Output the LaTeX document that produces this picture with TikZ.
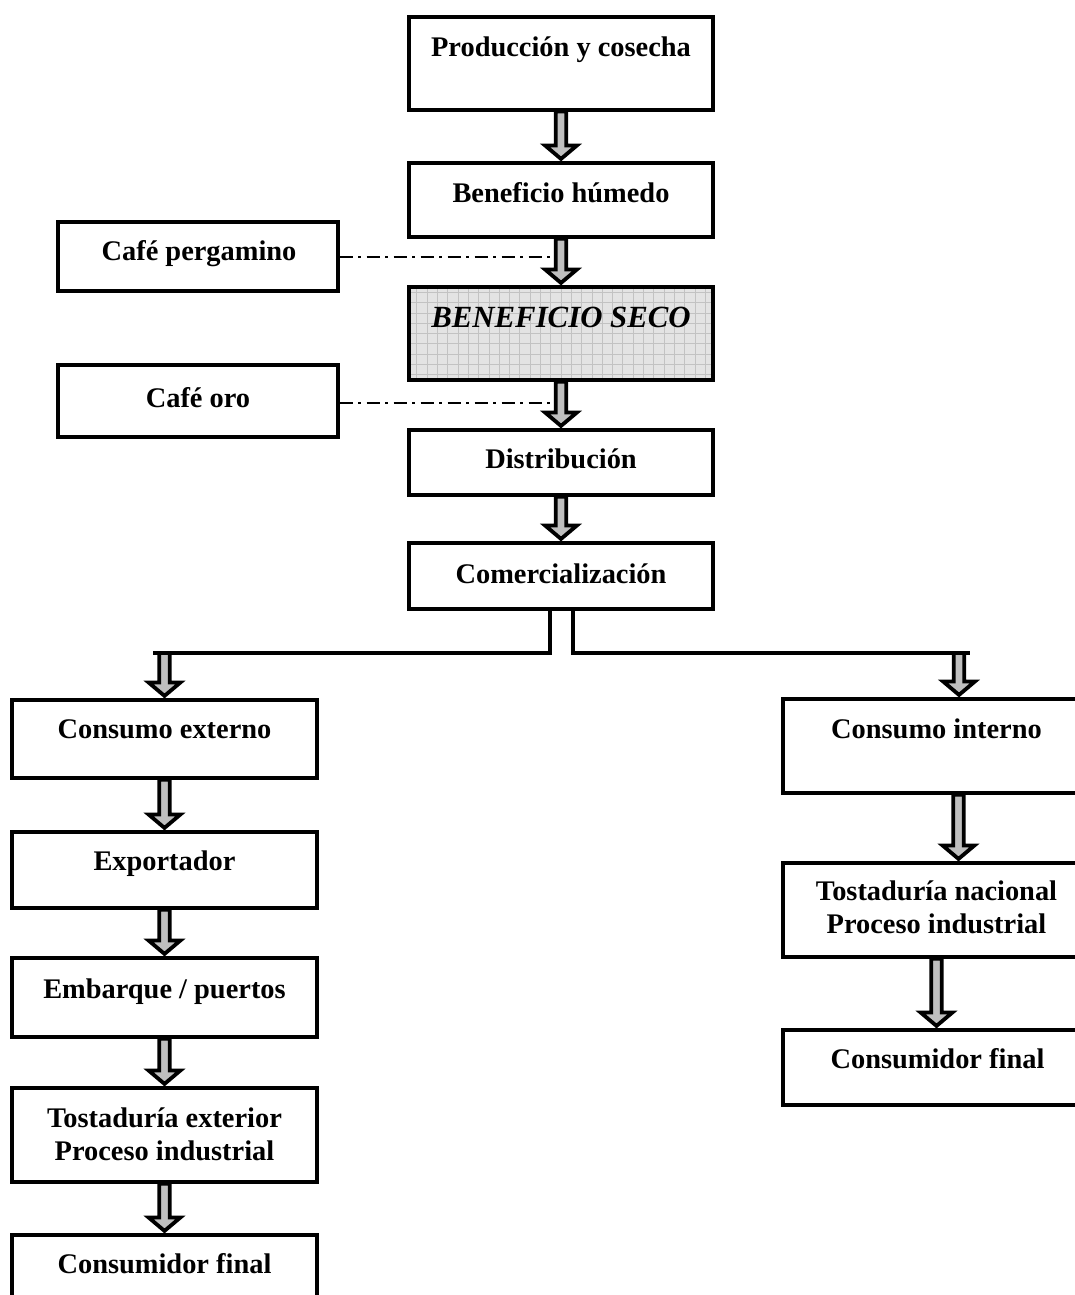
\documentclass[tikz,border=0pt]{standalone}
\usepackage{fontspec}
\setmainfont{Liberation Serif}
\usetikzlibrary{calc}
\definecolor{arrowgray}{HTML}{BFBFBF}
\begin{document}
\begin{tikzpicture}[x=1pt,y=1pt,
  box/.style={draw=black, line width=3.2pt, rectangle, inner sep=0pt, fill=white},
  lbl/.style={font=\fontsize{28.4}{32.5}\selectfont\bfseries, inner sep=0pt, anchor=base, align=center},
  seclbl/.style={font=\fontsize{30.8}{34}\selectfont\bfseries\itshape, inner sep=0pt, anchor=base},
  gridbox/.style={box, fill=black!11, path picture={\draw[black!24, line width=0.7pt, step=10.3pt]
      (path picture bounding box.south west) grid (path picture bounding box.north east);}},
  conn/.style={draw=black, line width=4pt},
  dashdot/.style={draw=black, line width=2pt, dash pattern=on 13pt off 5.5pt on 3pt off 5.5pt},
  blockarrow/.style={fill=arrowgray, draw=black, line width=3.8pt, line join=miter, miter limit=10,
    to path={let \p1=(\tikztostart), \p2=(\tikztotarget) in
      (\x1-5.2pt,\y1) -- (\x1-5.2pt,\y2+16pt) -- (\x1-16pt,\y2+16pt) -- (\x1,\y2+2.5pt)
      -- (\x1+16pt,\y2+16pt) -- (\x1+5.2pt,\y2+16pt) -- (\x1+5.2pt,\y1) -- cycle}}
]
\clip (0,0) rectangle (1075,-1295);
\fill[white] (0,0) rectangle (1075,-1295);

% central column
\node[box, minimum width=304pt, minimum height=93pt] (prod) at (561,-63.5) {};
\node[box, minimum width=304pt, minimum height=74pt] (hum) at (561,-200) {};
\node[gridbox, minimum width=304pt, minimum height=93pt] (seco) at (561,-333.5) {};
\node[box, minimum width=304pt, minimum height=65pt] (dist) at (561,-462.5) {};
\node[box, minimum width=304pt, minimum height=66pt] (com) at (561,-576) {};

% side boxes
\node[box, minimum width=280pt, minimum height=69pt] (perg) at (198,-256.5) {};
\node[box, minimum width=280pt, minimum height=72pt] (oro) at (198,-401) {};

% left column
\node[box, minimum width=305pt, minimum height=78pt] (cext) at (164.5,-739) {};
\node[box, minimum width=305pt, minimum height=76pt] (expo) at (164.5,-870) {};
\node[box, minimum width=305pt, minimum height=79pt] (emb) at (164.5,-997.5) {};
\node[box, minimum width=305pt, minimum height=94pt] (tex) at (164.5,-1135) {};
\node[box, minimum width=305pt, minimum height=85pt] (cfl) at (164.5,-1277.5) {};

% right column
\node[box, minimum width=307pt, minimum height=94pt] (cint) at (936.5,-746) {};
\node[box, minimum width=307pt, minimum height=94pt] (tnac) at (936.5,-910) {};
\node[box, minimum width=307pt, minimum height=75pt] (cfr) at (936.5,-1067.5) {};

% texts
\node[lbl] (prodT) at (561,-57) {Producción y cosecha};
\node[lbl] (humT) at (561,-202) {Beneficio húmedo};
\node[seclbl] (secoT) at (561,-327) {BENEFICIO SECO};
\node[lbl] (distT) at (561,-468) {Distribución};
\node[lbl] (comT) at (561,-583) {Comercialización};
\node[lbl] (pergT) at (199,-260) {Café pergamino};
\node[lbl] (oroT) at (198,-407) {Café oro};
\node[lbl] (cextT) at (164.5,-738) {Consumo externo};
\node[lbl] (expoT) at (164.5,-870) {Exportador};
\node[lbl] (embT) at (164.5,-998) {Embarque / puertos};
\node[lbl] (texT) at (164.5,-1160) {Tostaduría exterior\\Proceso industrial};
\node[lbl] (cflT) at (164.5,-1273) {Consumidor final};
\node[lbl] (cintT) at (936.5,-738) {Consumo interno};
\node[lbl] (tnacT) at (936.5,-933) {Tostaduría nacional\\Proceso industrial};
\node[lbl] (cfrT) at (937.5,-1068) {Consumidor final};

% coordinates
\coordinate (dpe) at (551,-256.5);
\coordinate (dor) at (551,-403);
\coordinate (lend) at (153,-653);
\coordinate (rend) at (970,-653);
\coordinate (la) at (164.5,-653);
\coordinate (ra) at (959,-653);

% dash-dot connectors
\draw[dashdot] (perg.east) -- (dpe);
\draw[dashdot] (oro.east |- dor) -- (dor);

% split connector
\draw[conn] ([xshift=-11pt]com.south) |- (lend);
\draw[conn] ([xshift=12pt]com.south) |- (rend);

% block arrows
\draw[blockarrow] (prod.south) to (hum.north);
\draw[blockarrow] (hum.south) to (seco.north);
\draw[blockarrow] (seco.south) to (dist.north);
\draw[blockarrow] (dist.south) to (com.north);
\draw[blockarrow] (la) to (cext.north);
\draw[blockarrow] (cext.south) to (expo.north);
\draw[blockarrow] (expo.south) to (emb.north);
\draw[blockarrow] (emb.south) to (tex.north);
\draw[blockarrow] (tex.south) to (cfl.north);
\draw[blockarrow] (ra) to ([xshift=22.5pt]cint.north);
\draw[blockarrow] ([xshift=22pt]cint.south) to ([xshift=22pt]tnac.north);
\draw[blockarrow] (tnac.south) to (cfr.north);
\end{tikzpicture}
\end{document}
